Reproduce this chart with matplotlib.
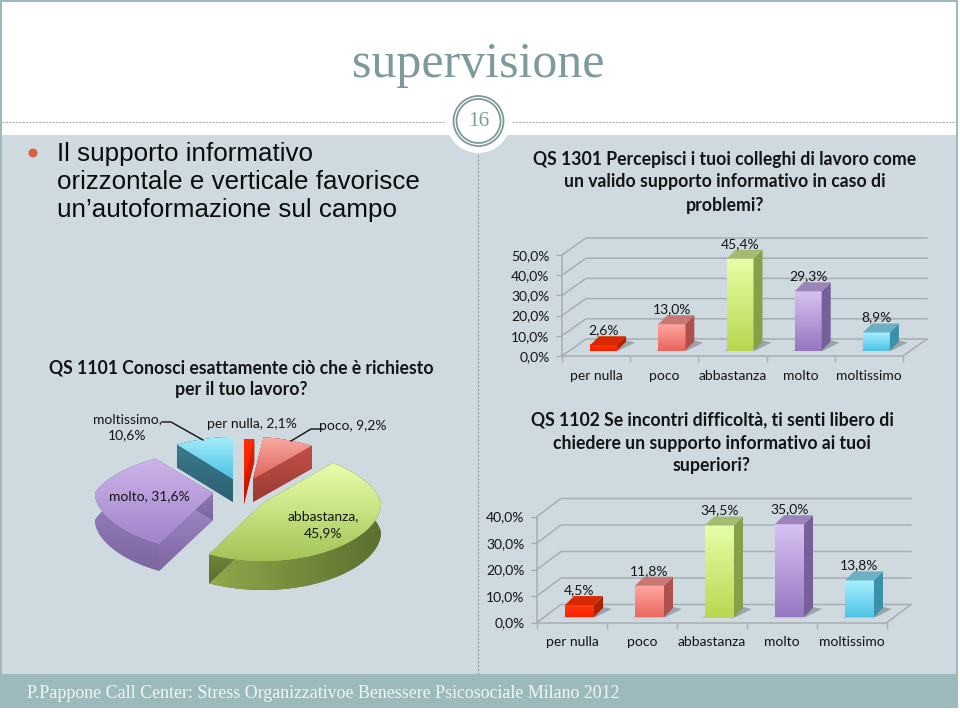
import numpy as np
import matplotlib
matplotlib.use("Agg")
import matplotlib.pyplot as plt
from matplotlib.colors import LinearSegmentedColormap
from matplotlib.patches import Polygon, Circle, Rectangle

W, H = 960, 712

# data
categories = ["per nulla", "poco", "abbastanza", "molto", "moltissimo"]
qs1301_values = [2.6, 13.0, 45.4, 29.3, 8.9]
qs1102_values = [4.5, 11.8, 34.5, 35.0, 13.8]
qs1101_values = [2.1, 9.2, 45.9, 31.6, 10.6]
qs1301_ticks = [0, 10, 20, 30, 40, 50]
qs1102_ticks = [0, 10, 20, 30, 40]

# colours of each category: front top, front bottom, side, roof
bar_colors = [
    ("#ff3a10", "#f82200", "#b02000", "#d82800"),
    ("#ffa8a2", "#e8685f", "#b0504a", "#c87872"),
    ("#e6ffa8", "#b8d850", "#84a048", "#a4bc70"),
    ("#d8c2f2", "#9678c2", "#75609a", "#9a84ba"),
    ("#a8f0ff", "#50c4e6", "#3a92aa", "#6cb0c4"),
]
pie_top = [
    ("#ff2e08", "#f02000"),
    ("#f8aaa2", "#de655a"),
    ("#e8ffaa", "#a4c458"),
    ("#ccb4ea", "#a284ca"),
    ("#a4ecfb", "#4cc2e2"),
]
pie_wall = [
    ("#e02000", "#c01800"),
    ("#c05048", "#9c3c34"),
    ("#8fa94a", "#5c7030"),
    ("#a48cc8", "#7c66a0"),
    ("#3a7a8c", "#2c6072"),
]
# exploded position and perspective of each slice on the slide
pie_apex_x = [244, 253, 263, 213, 233]
pie_apex_y = [481, 479, 503, 493, 479]
pie_depth = [23, 23, 29, 27, 23]
pie_rx_drop = [42, 38, 15, 32, 36]
pie_ry_mid = [50, 50, 55, 50, 50]
pie_ry_drop = [8, 8, 3, 8, 8]

PANEL = "#cfdae0"
TEAL = "#9cb9bb"
SLATE = "#7f9a9b"
GRID = "#a8aeb2"
TEXT = "#141414"

fig = plt.figure(figsize=(W / 100, H / 100), dpi=100, facecolor="white")
bg = fig.add_axes([0, 0, 1, 1])
bg.set_axis_off()


def grad_fill(ax, pts, c1, c2, z, horizontal=False):
    # polygon filled by a two colour gradient
    pts = np.asarray(pts, dtype=float)
    patch = Polygon(pts, closed=True, fc=c2, ec="none", zorder=z)
    ax.add_patch(patch)
    cmap = LinearSegmentedColormap.from_list("g", [c1, c2])
    grad = np.linspace(0, 1, 64).reshape(1, -1) if horizontal else np.linspace(0, 1, 64).reshape(-1, 1)
    x0, x1 = pts[:, 0].min(), pts[:, 0].max()
    y0, y1 = pts[:, 1].min(), pts[:, 1].max()
    im = ax.imshow(grad, cmap=cmap, extent=[x0, x1, y1, y0], aspect="auto", zorder=z + 0.1,
                   interpolation="bilinear", origin="upper")
    im.set_clip_path(patch)


# slide background
bg.add_patch(Rectangle((2, 135), 954, 539, fc=PANEL, ec="none", zorder=1))
bg.add_patch(Rectangle((2, 674), 954, 34, fc=TEAL, ec="none", zorder=1))
bg.add_patch(Rectangle((0, 0), 2, 708, fc=TEAL, ec="none", zorder=2))
bg.add_patch(Rectangle((956, 0), 1.5, 708, fc=TEAL, ec="none", zorder=2))
bg.add_patch(Rectangle((0, 0), 958, 1.5, fc=TEAL, ec="none", zorder=2))
bg.plot([2, 445], [122, 122], color="#a9b4b6", lw=0.8, ls=(0, (2, 1)), zorder=2)
bg.plot([512, 956], [122, 122], color="#a9b4b6", lw=0.8, ls=(0, (2, 1)), zorder=2)
bg.plot([478, 478], [155, 674], color="#8d9a9e", lw=0.8, ls=(0, (2, 1.5)), zorder=2)
bg.add_patch(Circle((478.5, 121), 32, fc="white", ec="none", zorder=3))
bg.add_patch(Circle((478.5, 121), 25, fc="white", ec=SLATE, lw=1.3, zorder=4))
bg.add_patch(Circle((478.5, 121), 22, fc="white", ec=SLATE, lw=1.3, zorder=4))
bg.text(478.5, 122, "16", family="Liberation Serif", fontsize=15.5, color=SLATE,
        ha="center", va="center", zorder=5)
bg.text(478.5, 65, "supervisione", family="Liberation Serif", fontsize=36, color=SLATE,
        ha="center", va="center", zorder=5)
bg.text(27, 693.5, "P.Pappone Call Center: Stress Organizzativoe Benessere Psicosociale Milano 2012",
        family="Liberation Serif", fontsize=12.9, color="#f2f6f6", ha="left", va="center", zorder=5)

# bullet text
bg.add_patch(Circle((33, 153), 4.5, fc="#d9603f", ec="none", zorder=5))
for line, y in zip(["Il supporto informativo", "orizzontale e verticale favorisce",
                    "un\u2019autoformazione sul campo"], [154, 182, 210]):
    bg.text(57, y, line, family="Liberation Sans", fontsize=18.7, color="#0c0c0c",
            ha="left", va="center", zorder=5)

# question titles
questions = [
    (725, [160, 182, 205], ["QS 1301 Percepisci i tuoi colleghi di lavoro come",
                            "un valido supporto informativo in caso di", "problemi?"]),
    (241, [368, 390], ["QS 1101 Conosci esattamente ciò che è richiesto", "per il tuo lavoro?"]),
    (712, [420, 443, 466], ["QS 1102 Se incontri difficoltà, ti senti libero di",
                            "chiedere un supporto informativo ai tuoi", "superiori?"]),
]
for cx, ys, lines in questions:
    for y, line in zip(ys, lines):
        bg.text(cx, y, line, family="Lato", fontweight="bold", fontsize=12.7, color=TEXT,
                ha="center", va="center", zorder=5)

# pie slices, back ones first
fractions = np.array(qs1101_values) / np.sum(qs1101_values)
edges = np.concatenate([[0], np.cumsum(fractions)]) * 2 * np.pi
z = 10
for i in [4, 0, 1, 3, 2]:
    th = np.linspace(edges[i], edges[i + 1], 60)
    v = np.cos(th)
    rx = 118 - pie_rx_drop[i] * np.clip(v, 0, 1)
    ry = pie_ry_mid[i] - pie_ry_drop[i] * v
    ax_, ay_ = pie_apex_x[i], pie_apex_y[i]
    arc = np.column_stack([ax_ + rx * np.sin(th), ay_ - ry * v])
    apex = np.array([ax_, ay_], dtype=float)
    d = np.array([0, pie_depth[i]])
    wall_arc = np.vstack([arc, (arc + d)[::-1]])
    grad_fill(bg, wall_arc, pie_wall[i][0], pie_wall[i][1], z, horizontal=(i == 2))
    grad_fill(bg, [apex, arc[0], arc[0] + d, apex + d], pie_wall[i][0], pie_wall[i][1], z + 1)
    grad_fill(bg, [apex, arc[-1], arc[-1] + d, apex + d], pie_wall[i][0], pie_wall[i][1], z + 2)
    grad_fill(bg, np.vstack([apex, arc]), pie_top[i][0], pie_top[i][1], z + 3)
    z += 5

# pie labels
pie_labels = [
    (127, 419, "moltissimo,"), (127, 435, "10,6%"), (252, 424, "per nulla, 2,1%"),
    (353, 426, "poco, 9,2%"), (149, 496, "molto, 31,6%"),
    (323, 516, "abbastanza,"), (323, 533, "45,9%"),
]
for x, y, s in pie_labels:
    bg.text(x, y, s, family="Lato", fontsize=10, color=TEXT, ha="center", va="center", zorder=60)
bg.plot([162, 171, 203], [422, 422, 440], color="#111111", lw=1, zorder=60)
bg.plot([322, 311, 291], [429, 429, 441], color="#111111", lw=1, zorder=60)

bg.set_xlim(0, W)
bg.set_ylim(H, 0)


def bar_chart(values, ticks, left, right, y0, ytop, dx, dy, base, shift, width, depth):
    # all sizes given in slide pixels, turned into data units through the axes
    ax = fig.add_axes([left / W, 1 - y0 / H, (right - left) / W, (y0 - ytop) / H])
    n = len(values)
    ax.set_xlim(0, n)
    ax.set_ylim(ticks[0], ticks[-1])
    ax.patch.set_alpha(0)
    ux = n / (right - left)
    uy = (ticks[-1] - ticks[0]) / (y0 - ytop)
    bdx, bdy = dx * ux, dy * uy

    # walls and floor
    for t in ticks:
        ax.plot([0, bdx, n + bdx], [t, t + bdy, t + bdy], color=GRID, lw=1.1, clip_on=False, zorder=1)
    ax.plot([n, n + bdx], [0, bdy], color=GRID, lw=1.1, clip_on=False, zorder=1)

    xs = np.arange(n) + 0.5 + shift * ux
    w = width * ux
    dpx, dpy = depth * ux, depth * uy
    bottom = base * uy
    bars = ax.bar(xs, values, width=w, bottom=bottom, color=[c[1] for c in bar_colors], zorder=3,
                  clip_on=False)
    for i, (b, val) in enumerate(zip(bars, values)):
        x0, x1 = xs[i] - w / 2, xs[i] + w / 2
        top = bottom + val
        front, back, side, roof = bar_colors[i]
        # shadow on the floor
        ax.add_patch(Polygon([[x0 - 3 * ux, bottom - 0.4 * uy], [x1 + 1 * ux, bottom - 0.4 * uy],
                              [x1 + (depth + 9) * ux, bottom + (depth - 1) * uy],
                              [x1 + depth * ux, bottom + (depth + 1) * uy]],
                             fc="#8d979c", ec="none", alpha=0.8, zorder=2, clip_on=False))
        ax.add_patch(Polygon([[x1, bottom], [x1 + dpx, bottom + dpy], [x1 + dpx, top + dpy], [x1, top]],
                             fc=side, ec="none", zorder=4, clip_on=False))
        ax.add_patch(Polygon([[x0, top], [x1, top], [x1 + dpx, top + dpy], [x0 + dpx, top + dpy]],
                             fc=roof, ec="none", zorder=4, clip_on=False))
        cmap = LinearSegmentedColormap.from_list("g", [front, back])
        ax.imshow(np.linspace(0, 1, 64).reshape(-1, 1), cmap=cmap, aspect="auto",
                  extent=[x0, x1, bottom, top], origin="upper", zorder=3.5, clip_on=False)
        ax.text(xs[i], top + dpy + 6 * uy, f"{val:.1f}%".replace(".", ","), family="Lato", fontsize=10,
                color=TEXT, ha="center", va="center", zorder=6, clip_on=False)

    ax.set_xlim(0, n)
    ax.set_ylim(ticks[0], ticks[-1])
    ax.set_xticks(np.arange(n + 1))
    ax.set_xticklabels([])
    ax.set_xticks(np.arange(n) + 0.5, categories, minor=True)
    ax.set_yticks(ticks, [f"{t:.1f}%".replace(".", ",") for t in ticks])
    ax.tick_params(axis="x", which="major", length=4, color=GRID, width=1)
    ax.tick_params(axis="x", which="minor", length=0, pad=10, labelsize=10, labelcolor=TEXT)
    ax.tick_params(axis="y", length=4, color=GRID, width=1, pad=5, labelsize=10, labelcolor=TEXT)
    for lab in ax.get_xticklabels(minor=True) + ax.get_yticklabels():
        lab.set_family("Lato")
    for s in ["top", "right"]:
        ax.spines[s].set_visible(False)
    for s in ["left", "bottom"]:
        ax.spines[s].set_color(GRID)
        ax.spines[s].set_linewidth(1.1)
    return ax


bar_chart(qs1301_values, qs1301_ticks, 562, 903, 356, 255, 24, 17, 5.5, 7.5, 27, 9)
bar_chart(qs1102_values, qs1102_ticks, 537, 887, 622.5, 516.5, 24, 18, 5.5, 7.5, 29, 9)

fig.savefig("out.png", dpi=100, facecolor="white")
